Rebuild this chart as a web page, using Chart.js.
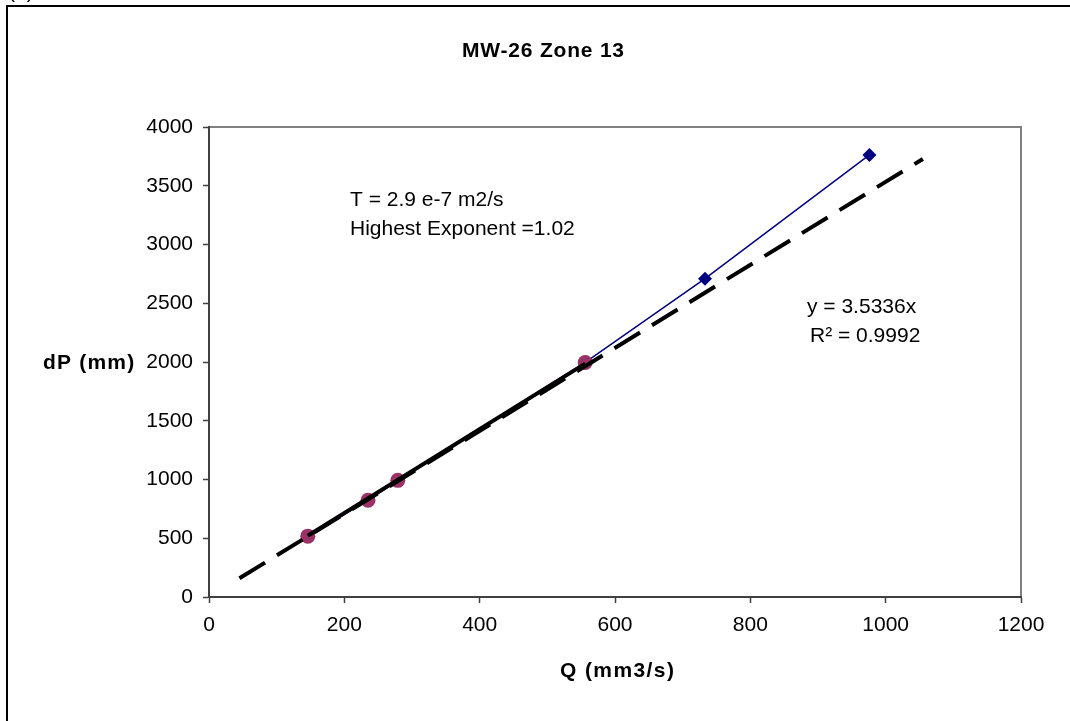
<!DOCTYPE html>
<html>
<head>
<meta charset="utf-8">
<script src="https://cdn.jsdelivr.net/npm/chart.js@4/dist/chart.umd.min.js"></script>
<style>
  html, body { margin: 0; padding: 0; background: #fff; }
</style>
</head>
<body>
<canvas id="dpChart" width="1070" height="721"></canvas>
<script>
// flow rate (mm3/s) vs pressure rise (mm), all steps
const flowAll = [146, 235, 279, 556, 733, 976];
const dpAll = [518, 824, 993, 1996, 2709, 3762];
// steps used for the linear part
const flowLinear = [146, 235, 279, 556];
const dpLinear = [518, 824, 993, 1996];
// dashed fit line y = 3.5336x
const fitSlope = 3.5336;
const fitRange = [45, 1055];

const xTicks = [0, 200, 400, 600, 800, 1000, 1200];
const yTicks = [0, 500, 1000, 1500, 2000, 2500, 3000, 3500, 4000];

const FONT = '"Liberation Sans", Arial, sans-serif';

const toPoints = (xs, ys) => xs.map((x, i) => ({ x: x, y: ys[i] }));

// least squares through the origin for the linear steps
let sxy = 0, sxx = 0;
flowLinear.forEach((x, i) => { sxy += x * dpLinear[i]; sxx += x * x; });
const linSlope = sxy / sxx;
const linEnds = [flowLinear[0], flowLinear[flowLinear.length - 1]];

function drawText(ctx, str, x, y, bold, spacing) {
  ctx.font = (bold ? 'bold ' : '') + '21px ' + FONT;
  ctx.letterSpacing = (spacing || 0) + 'px';
  ctx.fillText(str, x, y);
}

const chartText = {
  id: 'chartText',
  beforeDraw(chart) {
    const ctx = chart.ctx;
    const a = chart.chartArea;
    ctx.save();
    // outer frame (top and left only)
    ctx.strokeStyle = '#000';
    ctx.lineWidth = 2;
    ctx.beginPath();
    ctx.moveTo(7, 721);
    ctx.lineTo(7, 6);
    ctx.lineTo(1070, 6);
    ctx.stroke();
    // grey plot border on top and right
    ctx.strokeStyle = '#808080';
    ctx.beginPath();
    ctx.moveTo(a.left, a.top);
    ctx.lineTo(a.right, a.top);
    ctx.lineTo(a.right, a.bottom);
    ctx.stroke();
    ctx.restore();
  },
  afterDraw(chart) {
    const ctx = chart.ctx;
    ctx.save();
    ctx.fillStyle = '#000';
    ctx.textBaseline = 'alphabetic';
    ctx.textAlign = 'left';
    drawText(ctx, '(a)', 8, -2, false);
    drawText(ctx, 'MW-26 Zone 13', 462, 57, true, 0.8);
    drawText(ctx, 'dP (mm)', 43, 369, true, 1.2);
    drawText(ctx, 'Q (mm3/s)', 560, 677, true, 1.4);
    drawText(ctx, 'T = 2.9 e-7 m2/s', 350, 206, false);
    drawText(ctx, 'Highest Exponent =1.02', 350, 235, false);
    drawText(ctx, 'y = 3.5336x', 807, 313, false);
    drawText(ctx, 'R\u00B2 = 0.9992', 810, 342, false);
    ctx.restore();
  }
};

const tickFont = { family: FONT, size: 21 };
const plain = v => String(v);

new Chart(document.getElementById('dpChart'), {
  type: 'scatter',
  data: {
    datasets: [
      {
        label: 'Linear trend',
        data: linEnds.map(x => ({ x: x, y: linSlope * x })),
        showLine: true,
        borderColor: '#000',
        borderWidth: 4,
        pointRadius: 0
      },
      {
        label: 'Fit',
        data: fitRange.map(x => ({ x: x, y: fitSlope * x })),
        showLine: true,
        borderColor: '#000',
        borderWidth: 4,
        borderDash: [30, 14],
        pointRadius: 0
      },
      {
        label: 'Linear steps',
        data: toPoints(flowLinear, dpLinear),
        showLine: true,
        borderColor: '#ff00ff',
        borderWidth: 1.5,
        pointRadius: 7.5,
        pointBorderWidth: 0,
        pointBackgroundColor: '#993366',
        pointBorderColor: '#993366'
      },
      {
        label: 'All steps',
        data: toPoints(flowAll, dpAll),
        showLine: true,
        borderColor: '#000080',
        borderWidth: 1.5,
        pointStyle: 'rectRot',
        pointRadius: 7,
        pointBorderWidth: 0,
        pointBackgroundColor: '#000080',
        pointBorderColor: '#000080'
      }
    ]
  },
  options: {
    responsive: false,
    animation: false,
    devicePixelRatio: 1,
    layout: { padding: { left: 0, top: 127, right: 49, bottom: 0 } },
    plugins: {
      legend: { display: false },
      tooltip: { enabled: false },
      title: { display: false }
    },
    scales: {
      x: {
        type: 'linear',
        min: 0,
        max: 1200,
        afterFit(s) { s.height = 124; },
        afterBuildTicks(s) { s.ticks = xTicks.map(v => ({ value: v })); },
        ticks: { font: tickFont, color: '#000', padding: 10, maxRotation: 0, callback: plain },
        grid: { drawOnChartArea: false, tickLength: 6, color: '#404040', tickWidth: 1.5 },
        border: { color: '#404040', width: 2 }
      },
      y: {
        type: 'linear',
        min: 0,
        max: 4000,
        afterFit(s) { s.width = 209; },
        afterBuildTicks(s) { s.ticks = yTicks.map(v => ({ value: v })); },
        ticks: { font: tickFont, color: '#000', padding: 10, callback: plain },
        grid: { drawOnChartArea: false, tickLength: 6, color: '#404040', tickWidth: 1.5 },
        border: { color: '#404040', width: 2 }
      }
    }
  },
  plugins: [chartText]
});
</script>
</body>
</html>
